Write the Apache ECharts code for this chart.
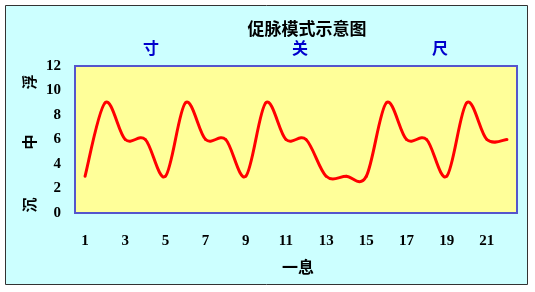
<!DOCTYPE html>
<html>
<head>
<meta charset="utf-8">
<script src="https://cdn.jsdelivr.net/npm/echarts@6/dist/echarts.min.js"></script>
<style>
html,body{margin:0;padding:0;background:#ffffff;}
#c{width:535px;height:292px;}
</style>
</head>
<body>
<div id="c"></div>
<script>
// Data
var categories = ['1','2','3','4','5','6','7','8','9','10','11','12','13','14','15','16','17','18','19','20','21','22'];
var pulseValues = [3, 9, 6, 6, 3, 9, 6, 6, 3, 9, 6, 6, 3, 3, 3, 9, 6, 6, 3, 9, 6, 6];
var positionLabels = ['寸', '关', '尺'];
var depthLabels = ['浮', '中', '沉'];
var titleText = '促脉模式示意图';
var xName = '一息';

var chart = echarts.init(document.getElementById('c'), null, {renderer: 'canvas'});
var cjk = '"Noto Sans CJK SC", sans-serif';
var serif = '"Liberation Serif", "Times New Roman", serif';

var graphics = [
  {type: 'rect', shape: {x: 5.5, y: 5.5, width: 522, height: 279}, style: {fill: '#CCFFFF', stroke: '#333333', lineWidth: 1}, z: -10},
  {type: 'text', x: 151, y: 48, style: {text: positionLabels[0], fill: '#0000CC', font: 'bold 16px ' + cjk, textAlign: 'center', textVerticalAlign: 'middle'}},
  {type: 'text', x: 300, y: 48, style: {text: positionLabels[1], fill: '#0000CC', font: 'bold 16px ' + cjk, textAlign: 'center', textVerticalAlign: 'middle'}},
  {type: 'text', x: 440, y: 48, style: {text: positionLabels[2], fill: '#0000CC', font: 'bold 16px ' + cjk, textAlign: 'center', textVerticalAlign: 'middle'}},
  {type: 'text', x: 29, y: 82, rotation: Math.PI / 2, style: {text: depthLabels[0], fill: '#000', font: 'bold 15px ' + cjk, textAlign: 'center', textVerticalAlign: 'middle'}},
  {type: 'text', x: 29, y: 142, rotation: Math.PI / 2, style: {text: depthLabels[1], fill: '#000', font: 'bold 15px ' + cjk, textAlign: 'center', textVerticalAlign: 'middle'}},
  {type: 'text', x: 29, y: 205, rotation: Math.PI / 2, style: {text: depthLabels[2], fill: '#000', font: 'bold 15px ' + cjk, textAlign: 'center', textVerticalAlign: 'middle'}},
  {type: 'text', x: 298, y: 267, style: {text: xName, fill: '#000', font: 'bold 16px ' + cjk, textAlign: 'center', textVerticalAlign: 'middle'}}
];

// Spline segment between data points i and i+1 (Catmull-Rom style), mapped through the axes
function renderSegment(params, api) {
  var i = params.dataIndex;
  var n = pulseValues.length;
  if (i >= n - 1) return null;
  function pt(k) {
    k = Math.max(0, Math.min(n - 1, k));
    return api.coord([k, pulseValues[k]]);
  }
  var p0 = pt(i - 1), p1 = pt(i), p2 = pt(i + 1), p3 = pt(i + 2);
  return {
    type: 'bezierCurve',
    shape: {
      x1: p1[0], y1: p1[1], x2: p2[0], y2: p2[1],
      cpx1: p1[0] + (p2[0] - p0[0]) / 6, cpy1: p1[1] + (p2[1] - p0[1]) / 6,
      cpx2: p2[0] - (p3[0] - p1[0]) / 6, cpy2: p2[1] - (p3[1] - p1[1]) / 6
    },
    style: {stroke: '#FF0000', lineWidth: 3, fill: null, lineCap: 'round'}
  };
}

chart.setOption({
  backgroundColor: '#ffffff',
  animation: false,
  title: {
    text: titleText, left: 302, top: 15, textAlign: 'center',
    textStyle: {fontFamily: cjk, fontWeight: 'bold', fontSize: 17, color: '#000'}
  },
  graphic: graphics,
  grid: {
    left: 75, right: 18, top: 66, bottom: 79,
    show: true, backgroundColor: '#FFFF99', borderColor: '#5555CC', borderWidth: 2, z: 1
  },
  xAxis: {
    type: 'category', data: categories, boundaryGap: true,
    axisLine: {lineStyle: {color: '#333366', width: 2}},
    axisTick: {show: true, inside: true, length: 4, interval: 0, lineStyle: {color: '#333333', width: 1}},
    axisLabel: {interval: 1, margin: 21, color: '#000', fontFamily: serif, fontWeight: 'bold', fontSize: 15},
    splitLine: {show: false}
  },
  yAxis: {
    type: 'value', min: 0, max: 12, interval: 2,
    axisLine: {show: true, lineStyle: {color: '#333366', width: 2}},
    axisTick: {show: false},
    axisLabel: {margin: 14, color: '#000', fontFamily: serif, fontWeight: 'bold', fontSize: 15},
    splitLine: {show: true, lineStyle: {color: '#404040', width: 1}}
  },
  series: [{
    type: 'custom', coordinateSystem: 'cartesian2d', data: pulseValues,
    renderItem: renderSegment, z: 5, silent: true
  }]
});
</script>
</body>
</html>
